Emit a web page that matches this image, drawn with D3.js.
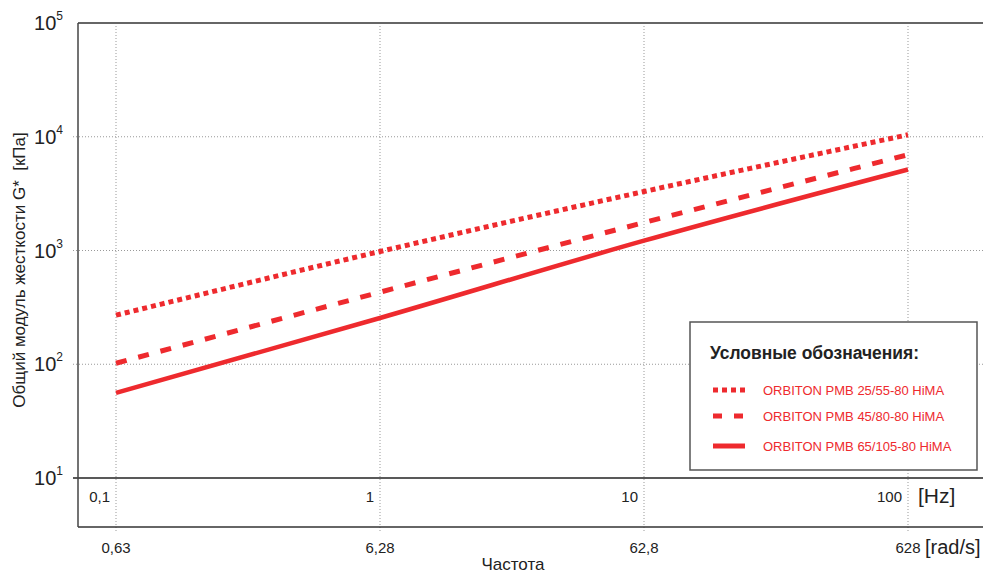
<!DOCTYPE html>
<html><head><meta charset="utf-8">
<script src="https://cdn.jsdelivr.net/npm/d3@7"></script>
<style>
body{margin:0;background:#fff;}
svg{display:block;font-family:"Liberation Sans",Arial,Helvetica,sans-serif;}
</style></head><body>
<svg id="c" width="983" height="573"></svg>
<script>
const freqHz = [0.1, 1, 10, 100];
const hzLabels = ["0,1", "1", "10", "100"];
const radLabels = ["0,63", "6,28", "62,8", "628"];
const yTicks = [10, 100, 1000, 10000, 100000];
const seriesNames = ["ORBITON PMB 25/55-80 HiMA", "ORBITON PMB 45/80-80 HiMA", "ORBITON PMB 65/105-80 HiMA"];
const s1 = [270, 980, 3300, 10400];
const s2 = [102, 430, 1760, 6950];
const s3 = [56, 255, 1220, 5150];
const seriesValues = [s1, s2, s3];

const red = "#ee2a2e";
const dashes = ["5,4", "11,12", null];
const svg = d3.select("#c");
const x = d3.scaleLog().domain([0.1, 100]).range([116, 908]);
const y = d3.scaleLog().domain([10, 100000]).range([478, 23]);
const L = 78, R = 983, B = 527;

// grid
const g = svg.append("g");
g.selectAll(".vg").data(freqHz).enter().append("line")
  .attr("x1", d => x(d)).attr("x2", d => x(d)).attr("y1", 23).attr("y2", 531)
  .attr("stroke", "#999").attr("stroke-width", 1).attr("stroke-dasharray", "1,2");
g.selectAll(".hg").data([100, 1000, 10000]).enter().append("line")
  .attr("x1", 73).attr("x2", R).attr("y1", d => y(d)).attr("y2", d => y(d))
  .attr("stroke", "#999").attr("stroke-width", 1).attr("stroke-dasharray", "1,2");

// frame
svg.append("line").attr("x1", L).attr("x2", R).attr("y1", 23).attr("y2", 23).attr("stroke", "#666").attr("stroke-width", 1.8);
svg.append("line").attr("x1", 73).attr("x2", R).attr("y1", y(10)).attr("y2", y(10)).attr("stroke", "#222").attr("stroke-width", 1.5);
svg.append("line").attr("x1", L).attr("x2", R).attr("y1", B).attr("y2", B).attr("stroke", "#333").attr("stroke-width", 1.5);
svg.append("line").attr("x1", L).attr("x2", L).attr("y1", 23).attr("y2", B).attr("stroke", "#444").attr("stroke-width", 1.5);

// y tick labels
const yt = svg.selectAll(".yt").data(yTicks).enter().append("text")
  .attr("x", 63).attr("y", d => y(d) + 7).attr("text-anchor", "end")
  .attr("font-size", 20).attr("fill", "#222");
yt.append("tspan").text("10");
yt.append("tspan").attr("dy", -10).attr("font-size", 12).text(d => Math.round(Math.log10(d)));

// y axis label
svg.append("text").attr("transform", "translate(25,270) rotate(-90)")
  .attr("text-anchor", "middle").attr("font-size", 17).attr("fill", "#222")
  .attr("xml:space", "preserve")
  .text("Общий модуль жесткости G*\u00a0\u00a0[кПа]");

// x Hz labels
svg.selectAll(".hz").data(freqHz).enter().append("text")
  .attr("x", d => x(d) - 6).attr("y", 502).attr("text-anchor", "end")
  .attr("font-size", 15).attr("fill", "#222").text((d, i) => hzLabels[i]);
svg.append("text").attr("x", 918).attr("y", 503).attr("font-size", 21).attr("fill", "#222").text("[Hz]");

// rad/s labels
svg.selectAll(".rad").data(freqHz).enter().append("text")
  .attr("x", d => x(d)).attr("y", 553).attr("text-anchor", "middle")
  .attr("font-size", 15).attr("fill", "#222").text((d, i) => radLabels[i]);
svg.append("text").attr("x", 925).attr("y", 554).attr("font-size", 20).attr("fill", "#222").text("[rad/s]");
svg.append("text").attr("x", 513).attr("y", 570).attr("text-anchor", "middle").attr("font-size", 17).attr("fill", "#222").text("Частота");

// series
const line = d3.line().x((d, i) => x(freqHz[i])).y(d => y(d)).curve(d3.curveMonotoneX);
seriesValues.forEach((vals, k) => {
  const p = svg.append("path").datum(vals).attr("d", line)
    .attr("fill", "none").attr("stroke", red).attr("stroke-width", k === 2 ? 4.5 : 5);
  if (dashes[k]) p.attr("stroke-dasharray", dashes[k]);
});

// legend
const lg = svg.append("g");
lg.append("rect").attr("x", 690).attr("y", 322).attr("width", 287).attr("height", 148)
  .attr("fill", "#fff").attr("stroke", "#555").attr("stroke-width", 1.5);
lg.append("text").attr("x", 710).attr("y", 359).attr("font-size", 18).attr("font-weight", "bold")
  .attr("fill", "#222").style("font-family", "'Liberation Sans Narrow','Liberation Sans',Arial,sans-serif")
  .attr("textLength", 209).attr("lengthAdjust", "spacingAndGlyphs")
  .text("Условные обозначения:");
const ly = [390, 416, 446];
seriesNames.forEach((n, k) => {
  const l = lg.append("line").attr("x1", 713).attr("x2", 745).attr("y1", ly[k]).attr("y2", ly[k])
    .attr("stroke", red).attr("stroke-width", 5);
  if (dashes[k]) l.attr("stroke-dasharray", k === 0 ? "5,4" : "9,12");
  lg.append("text").attr("x", 763).attr("y", ly[k] + 5).attr("font-size", 13).attr("fill", red)
    .style("font-family", "'Liberation Sans Narrow','Liberation Sans',Arial,sans-serif")
    .text(n);
});
</script>
</body></html>
